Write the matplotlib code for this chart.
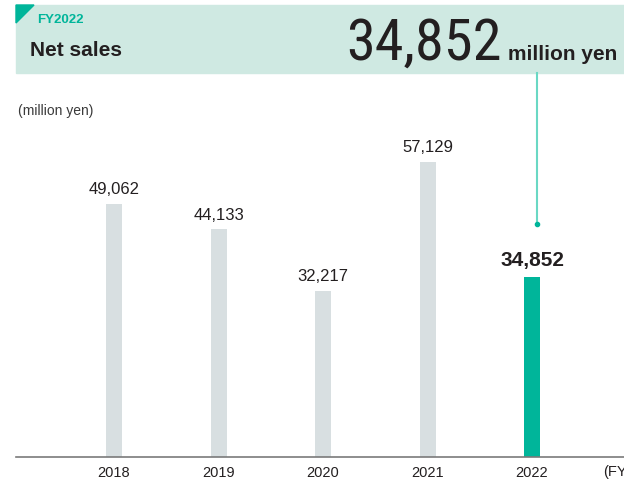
import matplotlib
matplotlib.use("Agg")
import matplotlib.pyplot as plt
from matplotlib.patches import Rectangle, Polygon
from matplotlib.lines import Line2D

years = ["2018", "2019", "2020", "2021", "2022"]
sales = [49062, 44133, 32217, 57129, 34852]
highlight = "2022"

GRAY = "#d8dfe1"
TEAL = "#00b59a"
MINT = "#cfe9e2"
DARK = "#231f20"

plt.rcParams["font.family"] = ["Liberation Sans", "DejaVu Sans"]

W, H = 624, 487
fig = plt.figure(figsize=(W / 100, H / 100), dpi=100)


def fx(px):
    return px / W


def fy(py):
    return 1 - py / H


# plot area: baseline at y=457px
ax = fig.add_axes([fx(16), fy(457), 1 - fx(16), fy(80) - fy(457)])
xs = list(range(len(years)))
colors = [TEAL if y == highlight else GRAY for y in years]
ax.bar(xs, sales, width=0.153, color=colors, zorder=2)
ax.set_xlim(-0.938, 4.88)
ax.set_ylim(0, 73060)
for x, v, y in zip(xs, sales, years):
    if y == highlight:
        ax.text(x, v + 1300, f"{v:,}", ha="center", va="bottom",
                fontsize=15, fontweight="bold", color=DARK)
    else:
        ax.text(x, v + 1300, f"{v:,}", ha="center", va="bottom",
                fontsize=12, color=DARK)
ax.set_xticks(xs)
ax.set_xticklabels(years, fontsize=10.5, color=DARK)
ax.tick_params(axis="x", length=0, pad=6.5)
ax.set_yticks([])
for s in ["top", "right", "left"]:
    ax.spines[s].set_visible(False)
ax.spines["bottom"].set_color("#7a7a7a")
ax.spines["bottom"].set_linewidth(1.2)
# the reference crops the closing bracket at the right edge
fig.text(fx(603), fy(472), "(FY)", fontsize=10.5, color=DARK, va="center", ha="left")

# header band
fig.patches.append(Rectangle((fx(16), fy(73)), 1 - fx(16), fy(5) - fy(73),
                             transform=fig.transFigure, color=MINT, zorder=0))
fig.patches.append(Polygon([(fx(16), fy(5)), (fx(34), fy(5)), (fx(16), fy(23))],
                           closed=True, transform=fig.transFigure, color=TEAL, zorder=1))
fig.text(fx(37), fy(20), "FY2022", fontsize=9.5, fontweight="bold", color=TEAL,
         va="center", ha="left")
fig.text(fx(30), fy(50), "Net sales", fontsize=15, fontweight="bold", color=DARK,
         va="center", ha="left")
fig.text(fx(502), fy(60), "34,852", fontsize=42, color=DARK, ha="right",
         va="baseline", family=["Roboto Condensed", "Liberation Sans"])
fig.text(fx(508), fy(60), "million yen", fontsize=15, fontweight="bold",
         color=DARK, ha="left", va="baseline")

# leader line from header to highlighted bar
fig.lines.append(Line2D([fx(537), fx(537)], [fy(73), fy(224)], transform=fig.transFigure,
                        color="#6ad8c4", lw=1.5))
fig.lines.append(Line2D([fx(537)], [fy(224)], transform=fig.transFigure,
                        marker="o", ms=3, color=TEAL))

fig.text(fx(18), fy(111), "(million yen)", fontsize=10, color="#3a3a3a",
         va="center", ha="left")

fig.savefig("out.png", dpi=100)
